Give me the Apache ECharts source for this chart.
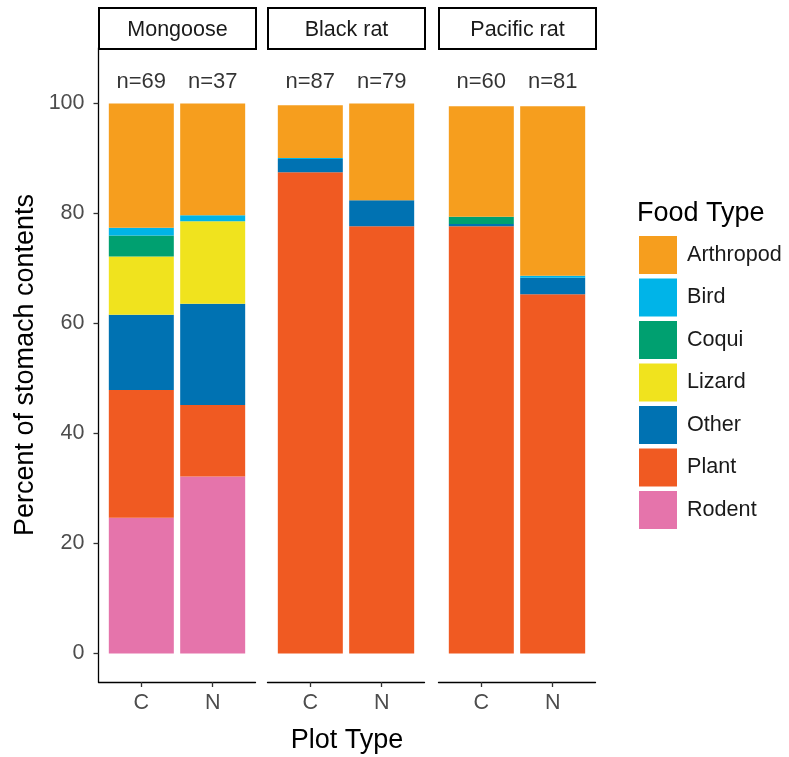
<!DOCTYPE html>
<html><head><meta charset="utf-8">
<script src="https://cdn.jsdelivr.net/npm/echarts@6/dist/echarts.min.js"></script>
<style>html,body{margin:0;padding:0;background:#fff}#c{width:789px;height:757px}</style>
</head><body><div id="c"></div>
<script>
// ---- data ----
const panels = ['Mongoose', 'Black rat', 'Pacific rat'];
const plotTypes = ['C', 'N'];
const nCounts = [[69, 37], [87, 79], [60, 81]];
const foodTypes = ['Rodent', 'Plant', 'Other', 'Lizard', 'Coqui', 'Bird', 'Arthropod']; // stack order bottom -> top
// values: [Mongoose C, Mongoose N, Black rat C, Black rat N, Pacific rat C, Pacific rat N]
const rodent    = [24.7, 32.2, 0, 0, 0, 0];
const plant     = [23.2, 13.0, 87.5, 77.7, 77.7, 65.3];
const other     = [13.7, 18.4, 2.4, 4.7, 0.4, 3.0];
const lizard    = [10.6, 15.0, 0, 0, 0, 0];
const coqui     = [3.8, 0, 0, 0, 1.3, 0];
const bird      = [1.4, 1.1, 0.2, 0, 0, 0.4];
const arthropod = [22.6, 20.3, 9.6, 17.6, 20.1, 30.8];
const yTicks = [0, 20, 40, 60, 80, 100];
const nLabelY = 104;

const values = {Rodent: rodent, Plant: plant, Other: other, Lizard: lizard, Coqui: coqui, Bird: bird, Arthropod: arthropod};
const colors = {Arthropod: '#F69E1E', Bird: '#00B4E8', Coqui: '#00A070', Lizard: '#F0E31E', Other: '#0072B2', Plant: '#F05A22', Rodent: '#E574AB'};

const FONT = 'Liberation Sans, Arial, sans-serif';
const chart = echarts.init(document.getElementById('c'), null, {renderer: 'canvas'});

const gridLefts = [98.5, 267.5, 438.5];
const gridW = 157;
const grids = [], xAxes = [], yAxes = [], series = [], graphics = [];

panels.forEach((p, pi) => {
  grids.push({left: gridLefts[pi], width: gridW, top: 48, bottom: 75, containLabel: false});
  xAxes.push({
    type: 'value', gridIndex: pi, min: 0.4, max: 2.6,
    splitLine: {show: false},
    axisLine: {show: true, onZero: false, lineStyle: {color: '#000', width: 1.3}},
    axisTick: {show: true, length: 5, customValues: [1, 2], lineStyle: {color: '#333', width: 1.3}},
    axisLabel: {show: true, customValues: [1, 2], formatter: v => plotTypes[Math.round(v) - 1],
      color: '#4D4D4D', fontSize: 21.5, fontFamily: FONT, margin: 10}
  });
  yAxes.push({
    type: 'value', gridIndex: pi, min: -5.18, max: 110.09,
    splitLine: {show: false},
    axisLine: {show: pi === 0, onZero: false, lineStyle: {color: '#000', width: 1.3}},
    axisTick: {show: pi === 0, length: 5, customValues: yTicks, lineStyle: {color: '#333', width: 1.3}},
    axisLabel: {show: pi === 0, customValues: yTicks, color: '#4D4D4D', fontSize: 21.5, fontFamily: FONT, margin: 14},
    name: pi === 0 ? 'Percent of stomach contents' : '',
    nameLocation: 'middle', nameGap: 59, nameRotate: 90,
    nameTextStyle: {color: '#000', fontSize: 27, fontFamily: FONT}
  });
  foodTypes.forEach(ft => {
    series.push({
      name: ft, type: 'bar', xAxisIndex: pi, yAxisIndex: pi, stack: 'p' + pi,
      barWidth: 65, itemStyle: {color: colors[ft]},
      emphasis: {disabled: true},
      dimensions: ['val', 'pos'],
      encode: {x: 'pos', y: 'val'},
      data: plotTypes.map((c, ci) => [values[ft][pi * 2 + ci], ci + 1])
    });
  });
  series.push({
    type: 'scatter', xAxisIndex: pi, yAxisIndex: pi, symbolSize: 0, silent: true,
    data: plotTypes.map((c, ci) => [ci + 1, nLabelY]),
    label: {show: true, position: 'inside', formatter: prm => 'n=' + nCounts[pi][prm.dataIndex],
      color: '#000', fontSize: 22, fontFamily: FONT}
  });
  graphics.push({
    type: 'group', left: gridLefts[pi] - 0.5, top: 7,
    children: [
      {type: 'rect', shape: {x: 0, y: 0, width: gridW, height: 41}, style: {fill: '#fff', stroke: '#000', lineWidth: 2}},
      {type: 'text', style: {x: gridW / 2, y: 22, text: p, textAlign: 'center', textVerticalAlign: 'middle',
        fill: '#1A1A1A', fontSize: 21.5, fontFamily: FONT}}
    ]
  });
});

graphics.push({type: 'text', style: {x: 347, y: 741, text: 'Plot Type', textAlign: 'center', textVerticalAlign: 'middle',
  fill: '#000', fontSize: 27, fontFamily: FONT}});
graphics.push({type: 'text', style: {x: 637, y: 214, text: 'Food Type', textAlign: 'left', textVerticalAlign: 'middle',
  fill: '#000', fontSize: 27, fontFamily: FONT}});

chart.setOption({
  animation: false,
  backgroundColor: '#fff',
  grid: grids, xAxis: xAxes, yAxis: yAxes, series: series,
  legend: {
    orient: 'vertical', left: 639, top: 236, padding: 0,
    data: foodTypes.slice().reverse(),
    icon: 'rect', itemWidth: 38, itemHeight: 38, itemGap: 4.5,
    selectedMode: false,
    textStyle: {color: '#1A1A1A', fontSize: 21.6, fontFamily: FONT, padding: [0, 0, 0, 5]}
  },
  graphic: graphics
});
</script>
</body></html>
